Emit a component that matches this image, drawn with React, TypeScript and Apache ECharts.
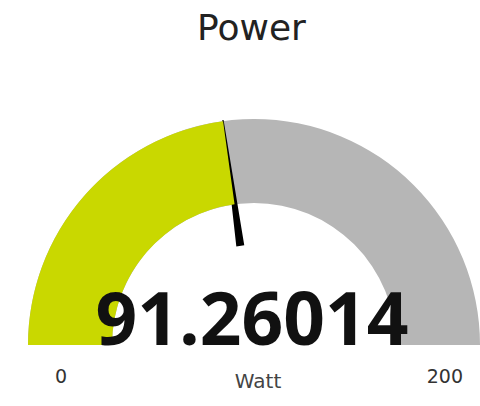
import React, { useEffect, useRef } from "react";
import * as echarts from "echarts";

const chartTitle = "Power";
const unitName = "Watt";
const minValue = 0;
const maxValue = 200;
const gaugeValues = [91.26014];
const tickLabels = ["0", "200"];

const YELLOW = "#c9d800";
const GRAY = "#b6b6b6";
const CENTER = [254, 345];
const RADIUS = 226;

export default function App() {
  const ref = useRef<HTMLDivElement>(null);
  useEffect(() => {
    if (!ref.current) return;
    const chart = echarts.init(ref.current, null, { renderer: "svg" });
    const needle =
      "path://M3.4,0 L4.6,0 L7.5,127 L0.5,127 Z M4,227 L4.02,227 L4,226.98 Z";
    const data = gaugeValues.map((v) => ({ value: v, name: unitName }));
    chart.setOption({
      animation: false,
      backgroundColor: "#ffffff",
      title: {
        text: chartTitle,
        left: 192,
        top: 4,
        textStyle: {
          fontFamily: "DejaVu Sans",
          fontSize: 36,
          fontWeight: "normal",
          color: "#222222",
        },
      },
      series: [
        {
          type: "gauge",
          z: 2,
          center: CENTER,
          radius: RADIUS,
          startAngle: 180,
          endAngle: 0,
          min: minValue,
          max: maxValue,
          splitNumber: 1,
          axisLine: {
            show: true,
            roundCap: false,
            lineStyle: { width: 84, color: [[1, GRAY]] },
          },
          progress: {
            show: true,
            width: 84,
            roundCap: false,
            itemStyle: { color: YELLOW },
          },
          splitLine: { show: false, length: 0 },
          axisTick: { show: false },
          axisLabel: {
            show: true,
            distance: 7,
            color: "#333333",
            fontSize: 19,
            lineHeight: 62,
            fontFamily: "DejaVu Sans",
            formatter: (v: number) =>
              v === minValue
                ? "\n{l|" + tickLabels[0] + "}"
                : v === maxValue
                ? "\n{r|" + tickLabels[1] + "}"
                : "",
            rich: {
              l: {
                fontSize: 19,
                lineHeight: 62,
                fontFamily: "DejaVu Sans",
                color: "#333333",
                padding: [0, 0, 0, 10],
              },
              r: {
                fontSize: 19,
                lineHeight: 62,
                fontFamily: "DejaVu Sans",
                color: "#333333",
              },
            },
          },
          pointer: {
            show: true,
            icon: needle,
            length: 227,
            width: 8,
            offsetCenter: [0, 0],
            itemStyle: { color: "#000000" },
          },
          anchor: { show: false },
          title: { show: false },
          detail: { show: false },
          data,
        },
        {
          type: "gauge",
          z: 5,
          center: CENTER,
          radius: RADIUS,
          startAngle: 180,
          endAngle: 0,
          min: minValue,
          max: maxValue,
          axisLine: { show: false },
          progress: { show: false },
          splitLine: { show: false },
          axisTick: { show: false },
          axisLabel: { show: false },
          pointer: { show: false },
          anchor: { show: false },
          title: {
            show: true,
            offsetCenter: [4, 36],
            fontSize: 20,
            fontFamily: "DejaVu Sans",
            color: "#444444",
          },
          detail: {
            show: true,
            offsetCenter: [-2, -29],
            fontSize: 73,
            fontWeight: "bold",
            fontFamily: "Open Sans",
            color: "#111111",
            formatter: (v: number) => String(v),
          },
          data,
        },
      ],
    });
    return () => chart.dispose();
  }, []);
  return (
    <div
      ref={ref}
      style={{ position: "absolute", left: 0, top: 0, width: 480, height: 406 }}
    />
  );
}
